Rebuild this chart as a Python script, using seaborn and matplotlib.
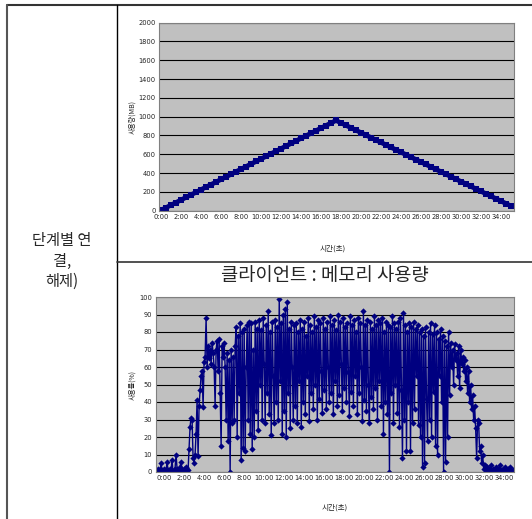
import numpy as np
import pandas as pd
import seaborn as sns
import matplotlib.pyplot as plt
from matplotlib.lines import Line2D

# Top chart: connection-stage usage (MB), one sample every 30 s
usage_mb = [5, 32, 60, 87, 114, 142, 169, 196, 224, 251, 278, 305, 333, 360, 387, 415, 442, 469,
            497, 524, 551, 578, 606, 633, 660, 688, 715, 742, 770, 797, 824, 851, 879, 906, 933, 960,
            934, 908, 882, 856, 830, 804, 778, 752, 726, 700, 674, 648, 622, 596, 570, 544, 518, 492,
            466, 440, 414, 388, 362, 336, 310, 284, 258, 232, 206, 180, 154, 128, 102, 76, 50]

# Bottom chart: client memory usage (%), one sample every 6 s
mem_pct = [1, 0, 2, 1, 0, 5, 1, 0, 2, 1, 0, 6, 1, 0, 2, 1, 7, 0, 1, 2,
           10, 2, 0, 1, 3, 6, 1, 0, 2, 1, 3, 2, 1, 13, 26, 31, 30, 8, 5, 10,
           22, 41, 9, 38, 47, 55, 58, 37, 63, 66, 88, 60, 72, 65, 70, 62, 74, 68, 60, 38,
           70, 75, 58, 76, 45, 15, 72, 66, 74, 60, 30, 68, 18, 64, 0, 70, 28, 66, 30, 72,
           83, 20, 78, 45, 85, 7, 80, 14, 82, 12, 60, 84, 30, 86, 22, 85, 13, 70, 20, 86,
           35, 82, 24, 87, 50, 81, 30, 88, 62, 28, 84, 45, 92, 33, 80, 21, 86, 55, 28, 87,
           40, 83, 30, 99, 52, 85, 22, 90, 35, 93, 20, 97, 45, 82, 25, 86, 60, 30, 84, 38,
           85, 28, 80, 52, 87, 26, 82, 40, 86, 33, 78, 55, 88, 29, 84, 45, 80, 36, 89, 50,
           83, 30, 87, 42, 85, 58, 34, 88, 47, 82, 36, 86, 60, 40, 89, 45, 84, 33, 87, 52,
           81, 38, 90, 44, 86, 62, 35, 88, 48, 83, 40, 85, 57, 32, 89, 46, 84, 38, 87, 55,
           80, 33, 88, 45, 85, 60, 29, 92, 41, 84, 35, 87, 50, 28, 86, 43, 82, 36, 89, 48,
           84, 30, 87, 52, 85, 38, 88, 22, 80, 40, 86, 33, 84, 0, 83, 45, 89, 28, 85, 50,
           82, 34, 86, 26, 88, 47, 8, 91, 30, 84, 12, 80, 40, 85, 12, 83, 28, 86, 36, 82,
           55, 84, 27, 80, 20, 82, 3, 78, 5, 83, 42, 18, 80, 30, 85, 20, 79, 46, 84, 15,
           80, 10, 76, 55, 82, 40, 78, 0, 75, 6, 72, 20, 80, 44, 74, 60, 70, 50, 73, 64,
           68, 55, 72, 48, 70, 62, 66, 58, 64, 52, 60, 45, 58, 40, 50, 36, 44, 30, 38, 25,
           8, 30, 28, 12, 15, 5, 10, 2, 4, 1, 3, 0, 2, 1, 4, 0, 2, 1, 0, 3,
           1, 2, 0, 4, 1, 0, 2, 1, 3, 0, 1, 2, 0, 3, 1, 0, 1, 0]

time_labels = ["0:00", "2:00", "4:00", "6:00", "8:00", "10:00", "12:00", "14:00", "16:00",
               "18:00", "20:00", "22:00", "24:00", "26:00", "28:00", "30:00", "32:00", "34:00"]

sns.set_style("white")
plt.rcParams['font.family'] = ['Noto Sans CJK KR', 'DejaVu Sans']
navy = "#000080"

W, H = 532, 519
fig = plt.figure(figsize=(W / 100, H / 100), dpi=100)


def px_axes(left, top, right, bottom):
    return fig.add_axes([left / W, 1 - bottom / H, (right - left) / W, (bottom - top) / H])


def style_axes(ax, yticks):
    ax.set_facecolor("#C0C0C0")
    ax.set_yticks(yticks)
    ax.grid(axis="y", color="black", linewidth=0.8)
    ax.grid(axis="x", visible=False)
    ax.set_axisbelow(True)
    for s in ax.spines.values():
        s.set_color("#808080")
        s.set_linewidth(0.8)
    ax.tick_params(length=0, pad=2.5)
    for lbl in ax.get_xticklabels() + ax.get_yticklabels():
        lbl.set_family("DejaVu Sans")
        lbl.set_stretch("condensed")
        lbl.set_size(5.3)
        lbl.set_color("#222222")


# ---- top chart ----
ax1 = px_axes(159.3, 22.7, 514, 210.7)
top_df = pd.DataFrame({"idx": range(len(usage_mb)), "mb": usage_mb})
sns.lineplot(data=top_df, x="idx", y="mb", ax=ax1, color=navy, linewidth=3.4,
             marker="s", markersize=4.6, markeredgewidth=0, estimator=None)
ax1.set_xlim(-0.34, 70.6)
ax1.set_ylim(0, 2000)
ax1.set_xticks(range(0, 4 * len(time_labels), 4))
ax1.set_xticklabels(time_labels)
style_axes(ax1, range(0, 2001, 200))
ax1.set_xlabel("시간(초)", fontsize=5.5, color="#222222")
ax1.xaxis.set_label_coords(0.49, -0.18)
ax1.set_ylabel("사용량(MB)", fontsize=5, color="#222222")
ax1.yaxis.set_label_coords(-0.065, 0.5)

# ---- bottom chart ----
ax2 = px_axes(155.7, 297, 514.3, 472)
mem_df = pd.DataFrame({"idx": range(len(mem_pct)), "pct": mem_pct})
sns.lineplot(data=mem_df, x="idx", y="pct", ax=ax2, color=navy, linewidth=1.0,
             marker="D", markersize=3.2, markeredgewidth=0, estimator=None)
ax2.set_xlim(-0.3, 357.6)
ax2.set_ylim(0, 100)
ax2.set_xticks(range(8, 8 + 20 * len(time_labels), 20))
ax2.set_xticklabels(time_labels)
style_axes(ax2, range(0, 101, 10))
ax2.set_xlabel("시간(초)", fontsize=5.5, color="#222222")
ax2.xaxis.set_label_coords(0.5, -0.18)
ax2.set_ylabel("사용률(%)", fontsize=5, color="#222222")
ax2.yaxis.set_label_coords(-0.055, 0.5)

fig.text(325 / W, 1 - 276 / H, "클라이언트 : 메모리 사용량", fontsize=13.5,
         ha="center", va="center")

# ---- table cell text and borders ----
fig.text(62 / W, 1 - 261 / H, "단계별 연\n결,\n해제)", fontsize=11,
         ha="center", va="center", linespacing=1.25)

for xs, ys, c, lw in [([7, 532], [5, 5], "#333333", 1.5),
                      ([7, 7], [5, 519], "#555555", 1.5),
                      ([117, 117], [5, 519], "black", 1.0),
                      ([117, 532], [262, 262], "#333333", 1.2)]:
    fig.add_artist(Line2D([x / W for x in xs], [1 - y / H for y in ys],
                          color=c, linewidth=lw, transform=fig.transFigure))

fig.savefig("out.png", dpi=100)
